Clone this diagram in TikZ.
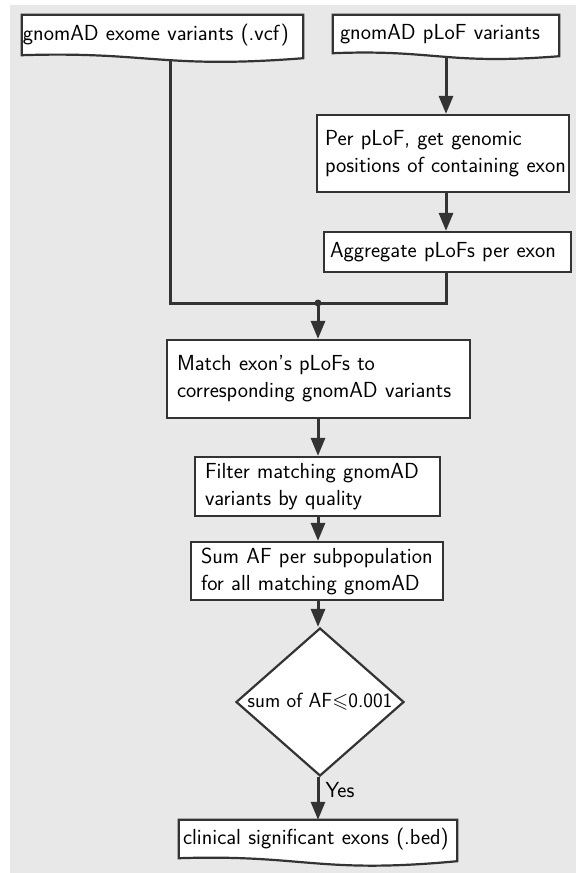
\documentclass[tikz,border=0pt]{standalone}
\usepackage{fontspec}
\usepackage{amssymb}
\usetikzlibrary{arrows.meta,calc,shapes.geometric,backgrounds}

\definecolor{panel}{RGB}{232,232,232}
\definecolor{ink}{RGB}{51,51,51}

\tikzset{
  base/.style={font=\sffamily\fontsize{21.8}{27}\selectfont, text=black},
  procbox/.style={base, draw=ink, line width=2.2pt, fill=white, rectangle,
    align=left, inner xsep=0pt, inner ysep=0pt},
  doctext/.style={base, rectangle, inner sep=0pt, align=left},
  docline/.style={draw=ink, line width=2.2pt, fill=white, line join=miter},
  decide/.style={base, font=\sffamily\fontsize{20.5}{25}\selectfont, diamond, draw=ink,
    line width=2.2pt, fill=white, inner sep=-2pt, aspect=1.135,
    minimum width=168pt, minimum height=148pt},
  conn/.style={draw=ink, line width=3pt},
  flow/.style={conn, -{Triangle[length=18pt,width=14pt]}},
}

% wavy-bottom document outline around a text node: #1 name, #2 dip depth
\newcommand\docoutline[2]{%
  \path[docline] (#1.north west) -- (#1.north east) -- ($(#1.south east)+(0,3)$)
    .. controls ($(#1.south west)!0.5!(#1.south east)+(0,#2)$)
           and ($(#1.south west)!0.45!(#1.south east)+(0,-4)$) .. (#1.south west) -- cycle;}

\begin{document}
\begin{tikzpicture}[x=1pt,y=-1pt]
\useasboundingbox (0,0) rectangle (576,873);

% input documents
\node[doctext, minimum width=281pt, minimum height=40pt, text width=279pt] (exome) at (162.5,35)
  {\mbox{gnomAD exome variants (.vcf)}};
\node[doctext, minimum width=226pt, minimum height=38pt, text width=212pt] (plof) at (446,34)
  {\mbox{gnomAD pLoF variants}};

% right-hand branch
\node[procbox, minimum width=252pt, minimum height=77pt, text width=236pt] (exonpos) at (443,153.5)
  {\mbox{Per pLoF, get genomic}\\\mbox{positions of containing exon}};
\node[procbox, minimum width=247pt, minimum height=40pt, text width=235pt] (aggregate) at (447.5,252)
  {\mbox{Aggregate pLoFs per exon}};

% main column
\node[procbox, minimum width=303pt, minimum height=78pt, text width=283pt] (match) at (318.5,379)
  {\mbox{Match exon's pLoFs to}\\\mbox{corresponding gnomAD variants}};
\node[procbox, minimum width=245pt, minimum height=59pt, text width=225pt] (filter) at (317.5,486.5)
  {\mbox{Filter matching gnomAD}\\\mbox{variants by quality}};
\node[procbox, minimum width=252pt, minimum height=58pt, text width=232pt] (sumaf) at (317,571)
  {\mbox{Sum AF per subpopulation}\\\mbox{for all matching gnomAD}};
\node[decide] (check) at (320,702) {sum of AF$\leqslant$0.001};

% output document
\node[doctext, minimum width=278pt, minimum height=38pt, text width=270pt] (result) at (318,839)
  {\mbox{clinical significant exons (.bed)}};

% routing points
\coordinate (lx) at (170,0);
\coordinate (rx) at (446,0);
\coordinate (join) at (318,303);

\begin{scope}[on background layer]
  \fill[panel] (10,5) rectangle (576,873);
\end{scope}

\begin{scope}[on background layer]
  \draw[conn] (exome.south -| lx) |- (join);
  \draw[conn] (aggregate.south -| rx) |- (join);
  \draw[flow] (plof.south -| rx) -- (exonpos.north -| rx);
  \draw[flow] (exonpos.south -| rx) -- (aggregate.north -| rx);
  \draw[flow] (join) -- (match.north -| join);
  \draw[flow] (match.south -| join) -- (filter.north -| join);
  \draw[flow] (filter.south -| join) -- (sumaf.north -| join);
  \draw[flow] (sumaf.south -| join) -- (check.north -| join);
  \draw[flow] (check.south -| join) -- node[base, pos=0.3, right, inner xsep=6pt, inner ysep=2pt] (yes) {Yes} (result.north -| join);
  \fill[ink] (join) circle (3.5pt);
\end{scope}

\begin{scope}[on background layer]
  \docoutline{exome}{14}
  \docoutline{plof}{12}
  \docoutline{result}{16}
\end{scope}
\end{tikzpicture}
\end{document}
